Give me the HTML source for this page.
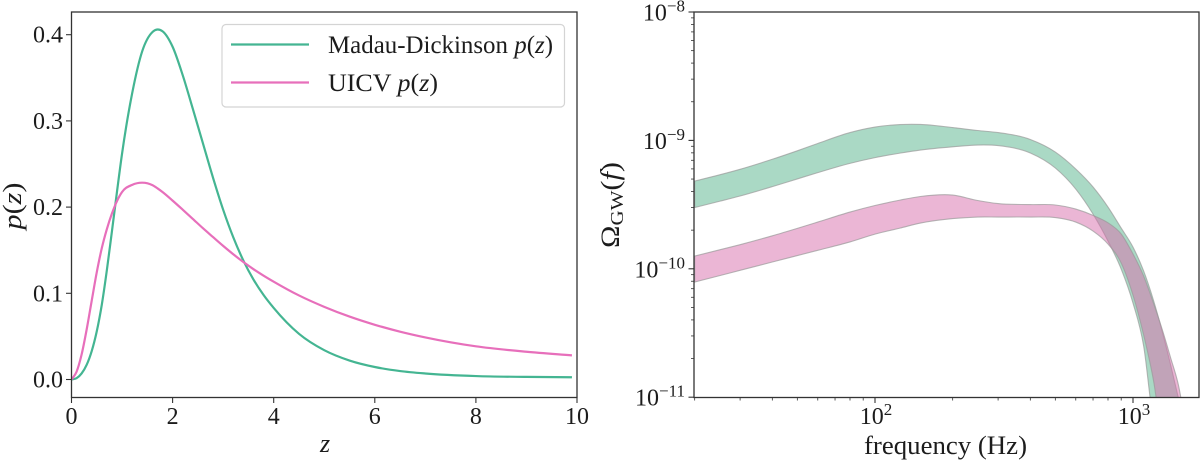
<!DOCTYPE html>
<html>
<head>
<meta charset="utf-8">
<title>Redshift distributions and GW background</title>
<style>
html,body{margin:0;padding:0;background:#fff;overflow:hidden;}
body{width:1200px;height:461px;}
svg{display:block;}
text{font-family:"Liberation Serif",serif;fill:#1c1c1c;}
.tick{font-size:24px;}
.sup{font-size:17px;}
.sub{font-size:18px;}
.lab{font-size:26px;}
.leg{font-size:25px;}
.it{font-style:italic;}
</style>
</head>
<body>
<svg id="fig" xmlns="http://www.w3.org/2000/svg" width="1200" height="461" viewBox="0 0 1200 461">
  <defs>
    <clipPath id="clipL"><rect x="71.5" y="12" width="505.5" height="385.5"/></clipPath>
    <clipPath id="clipR"><rect x="694" y="12" width="505" height="385.5"/></clipPath>
  </defs>
  <g id="left"></g>
  <g id="right"></g>

  <text class="lab" transform="translate(21,206) rotate(-90)" text-anchor="middle" textLength="47" lengthAdjust="spacingAndGlyphs"><tspan class="it">p</tspan>(<tspan class="it">z</tspan>)</text>
  <text class="lab it" x="325" y="452" text-anchor="middle">z</text>
  <text class="lab" x="864" y="454" textLength="163" lengthAdjust="spacingAndGlyphs">frequency (Hz)</text>
  <text class="lab" transform="translate(619,205) rotate(-90)" text-anchor="middle" textLength="86" lengthAdjust="spacingAndGlyphs">Ω<tspan class="sub" dy="4">GW</tspan><tspan dy="-4">(</tspan><tspan class="it">f</tspan>)</text>

  <g>
    <rect x="222" y="24.5" width="342.5" height="82.5" rx="4" fill="#fff" fill-opacity="0.8" stroke="#d4d4d4" stroke-width="1.2"/>
    <line x1="231" x2="309" y1="44.5" y2="44.5" stroke="#44b592" stroke-width="2.2"/>
    <line x1="231" x2="309" y1="82.5" y2="82.5" stroke="#e76fbb" stroke-width="2.2"/>
    <text class="leg" x="328" y="53" textLength="225" lengthAdjust="spacingAndGlyphs">Madau-Dickinson <tspan class="it">p</tspan>(<tspan class="it">z</tspan>)</text>
    <text class="leg" x="328" y="91" textLength="110" lengthAdjust="spacingAndGlyphs">UICV <tspan class="it">p</tspan>(<tspan class="it">z</tspan>)</text>
  </g>
</svg>
<script>
// Left panel data
var zValues = [0,0.1,0.2,0.3,0.4,0.5,0.6,0.7,0.8,0.9,1,1.2,1.4,1.6,1.7,1.8,2,2.2,2.4,2.6,2.8,3,3.2,3.4,3.6,3.8,4,4.5,5,5.5,6,6.5,7,8,9,9.9];
var madauDickinsonP = [0,0.0015,0.007,0.017,0.033,0.056,0.087,0.127,0.172,0.218,0.262,0.332,0.381,0.403,0.406,0.404,0.386,0.353,0.314,0.274,0.234,0.197,0.165,0.138,0.116,0.098,0.083,0.053,0.034,0.022,0.0145,0.0098,0.0070,0.0040,0.0030,0.0026];
var uicvP = [0,0.009,0.029,0.058,0.0915,0.1245,0.1525,0.1745,0.1925,0.2070,0.2175,0.2258,0.2283,0.2255,0.2218,0.2175,0.2075,0.1970,0.1863,0.1755,0.1652,0.1550,0.1453,0.1363,0.1280,0.1205,0.1135,0.0975,0.0843,0.0730,0.0635,0.0555,0.0488,0.0385,0.0322,0.028];
var leftXTicks = [0,2,4,6,8,10];
var leftYTicks = [0,0.1,0.2,0.3,0.4];

// Right panel data (log10 of the spectrum)
var frequencyHz = [20,25,30,40,50,60,80,100,125,150,200,250,300,400,500,600,700,800,900,1000,1100,1200,1300,1400,1500,1600];
var madauUpperLog = [-9.317,-9.268,-9.225,-9.147,-9.081,-9.024,-8.939,-8.896,-8.877,-8.876,-8.900,-8.923,-8.939,-8.993,-9.091,-9.223,-9.363,-9.519,-9.683,-9.831,-10.018,-10.244,-10.493,-10.750,-11.007,-11.256];
var madauLowerLog = [-9.523,-9.474,-9.433,-9.360,-9.300,-9.251,-9.179,-9.134,-9.099,-9.075,-9.050,-9.036,-9.040,-9.098,-9.215,-9.379,-9.574,-9.784,-10.002,-10.267,-10.602,-11.178,-11.802,-12.425,-13.048,-13.749];
var uicvUpperLog = [-9.901,-9.852,-9.812,-9.743,-9.685,-9.636,-9.558,-9.507,-9.465,-9.437,-9.426,-9.468,-9.492,-9.500,-9.503,-9.535,-9.584,-9.642,-9.729,-9.885,-10.057,-10.267,-10.477,-10.695,-10.906,-11.217];
var uicvLowerLog = [-10.103,-10.053,-10.012,-9.947,-9.897,-9.856,-9.791,-9.730,-9.683,-9.644,-9.609,-9.597,-9.597,-9.597,-9.601,-9.636,-9.706,-9.807,-9.955,-10.205,-10.516,-10.867,-11.373,-11.957,-12.581,-13.360];
var rightXDecades = [2,3];
var rightYDecades = [-8,-9,-10,-11];
var rightMinorDigits = [2,3,4,5,6,7,8,9];

var NS = 'http://www.w3.org/2000/svg';
var AXIS = '#333';

// Axis functions
function xL(z){ return 71.5 + 50.55 * z; }
function yL(p){ return 379.5 - 862 * p; }
function xR(f){ return 875 + 258 * (Math.log(f) / Math.LN10 - 2); }
function yR(logv){ return 12 + (-8 - Math.max(logv, -11.3)) * 128.4; }

function make(tag, parent){
  var el = document.createElementNS(NS, tag);
  parent.appendChild(el);
  return el;
}
// Cubic Hermite segments through points with monotone x
function slopes(pts){
  var m = [];
  for (var i = 0; i < pts.length; i++){
    if (i === 0){ m.push((pts[1][1] - pts[0][1]) / (pts[1][0] - pts[0][0])); continue; }
    if (i === pts.length - 1){ m.push((pts[i][1] - pts[i-1][1]) / (pts[i][0] - pts[i-1][0])); continue; }
    var h0 = pts[i][0] - pts[i-1][0], h1 = pts[i+1][0] - pts[i][0];
    var d0 = (pts[i][1] - pts[i-1][1]) / h0, d1 = (pts[i+1][1] - pts[i][1]) / h1;
    m.push((d0 * h1 + d1 * h0) / (h0 + h1));
  }
  return m;
}
function segments(pts){
  var m = slopes(pts), d = '';
  for (var i = 0; i < pts.length - 1; i++){
    var h = pts[i+1][0] - pts[i][0];
    d += 'C' + (pts[i][0] + h / 3).toFixed(2) + ' ' + (pts[i][1] + m[i] * h / 3).toFixed(2) + ' ' +
         (pts[i+1][0] - h / 3).toFixed(2) + ' ' + (pts[i+1][1] - m[i+1] * h / 3).toFixed(2) + ' ' +
         pts[i+1][0].toFixed(2) + ' ' + pts[i+1][1].toFixed(2);
  }
  return d;
}
function tick(parent, x1, y1, x2, y2, w){
  var t = make('line', parent);
  
  
  t.setAttribute('x1', x1); t.setAttribute('y1', y1);
  t.setAttribute('x2', x2); t.setAttribute('y2', y2);
  t.setAttribute('stroke', AXIS);
  t.setAttribute('stroke-width', w);
}
function label(parent, x, y, anchor, str){
  var t = make('text', parent);
  
  
  t.setAttribute('class', 'tick');
  t.setAttribute('x', x); t.setAttribute('y', y);
  t.setAttribute('text-anchor', anchor);
  t.textContent = str;
  return t;
}
function powerLabel(parent, x, y, anchor, exp){
  var t = label(parent, x, y, anchor, '10');
  var s = make('tspan', t);
  s.setAttribute('class', 'sup');
  s.setAttribute('dy', '-9');
  s.textContent = String(exp).replace('-', '\u2212');
}
function frame(parent, x, y, w, h){
  var r = make('rect', parent);
  
  
  r.setAttribute('x', x); r.setAttribute('y', y);
  r.setAttribute('width', w); r.setAttribute('height', h);
  r.setAttribute('fill', 'none');
  r.setAttribute('stroke', AXIS);
  r.setAttribute('stroke-width', 1.3);
}

// Left panel
var left = document.getElementById('left');
function drawLine(xs, ys, color, name){
  var pts = xs.map(function(z, i){ return [xL(z), yL(ys[i])]; });
  var path = make('path', left);
  
  
  path.setAttribute('d', 'M' + pts[0][0].toFixed(2) + ' ' + pts[0][1].toFixed(2) + segments(pts));
  path.setAttribute('fill', 'none');
  path.setAttribute('stroke', color);
  path.setAttribute('stroke-width', 2.2);
  path.setAttribute('clip-path', 'url(#clipL)');
}
drawLine(zValues, madauDickinsonP, '#44b592', 'madau-dickinson-line');
drawLine(zValues, uicvP, '#e76fbb', 'uicv-line');
frame(left, 71.5, 12, 505.5, 385.5);
leftXTicks.forEach(function(v){
  tick(left, xL(v), 397.5, xL(v), 403, 1.1);
  label(left, xL(v), 424, 'middle', String(v));
});
leftYTicks.forEach(function(v){
  tick(left, 71.5, yL(v), 66, yL(v), 1.1);
  label(left, 63, yL(v) + 8, 'end', v.toFixed(1));
});

// Right panel
var right = document.getElementById('right');
function drawBand(upper, lower, color, name){
  var up = frequencyHz.map(function(f, i){ return [xR(f), yR(upper[i])]; });
  var lo = frequencyHz.map(function(f, i){ return [xR(f), yR(lower[i])]; }).reverse();
  var band = make('path', right);
  
  
  band.setAttribute('d', 'M' + up[0][0].toFixed(2) + ' ' + up[0][1].toFixed(2) + segments(up) +
    'L' + lo[0][0].toFixed(2) + ' ' + lo[0][1].toFixed(2) + segments(lo) + 'Z');
  band.setAttribute('fill', color);
  band.setAttribute('fill-opacity', 0.5);
  band.setAttribute('stroke', '#9a9a9a');
  band.setAttribute('stroke-opacity', 0.7);
  band.setAttribute('stroke-width', 1.1);
  band.setAttribute('clip-path', 'url(#clipR)');
}
drawBand(madauUpperLog, madauLowerLog, '#55b38b', 'madau-dickinson-band');
drawBand(uicvUpperLog, uicvLowerLog, '#d76dab', 'uicv-band');
frame(right, 694, 12, 505, 385.5);
rightXDecades.forEach(function(e){
  tick(right, xR(Math.pow(10, e)), 397.5, xR(Math.pow(10, e)), 403, 1.1);
  powerLabel(right, xR(Math.pow(10, e)) + 1, 424, 'middle', e);
});
[1,2,3].forEach(function(e){
  rightMinorDigits.forEach(function(m){
    var f = m * Math.pow(10, e);
    if (f >= 20 && f <= 1800){ tick(right, xR(f), 397.5, xR(f), 400.5, 0.8); }
  });
});
rightYDecades.forEach(function(e){
  tick(right, 694, yR(e), 688.5, yR(e), 1.1);
  powerLabel(right, 685, yR(e) + 8.5, 'end', e);
});
[-9,-10,-11].forEach(function(e){
  rightMinorDigits.forEach(function(m){
    var lg = e + Math.log(m) / Math.LN10;
    tick(right, 694, yR(lg), 691, yR(lg), 0.8);
  });
});
</script>
</body>
</html>
